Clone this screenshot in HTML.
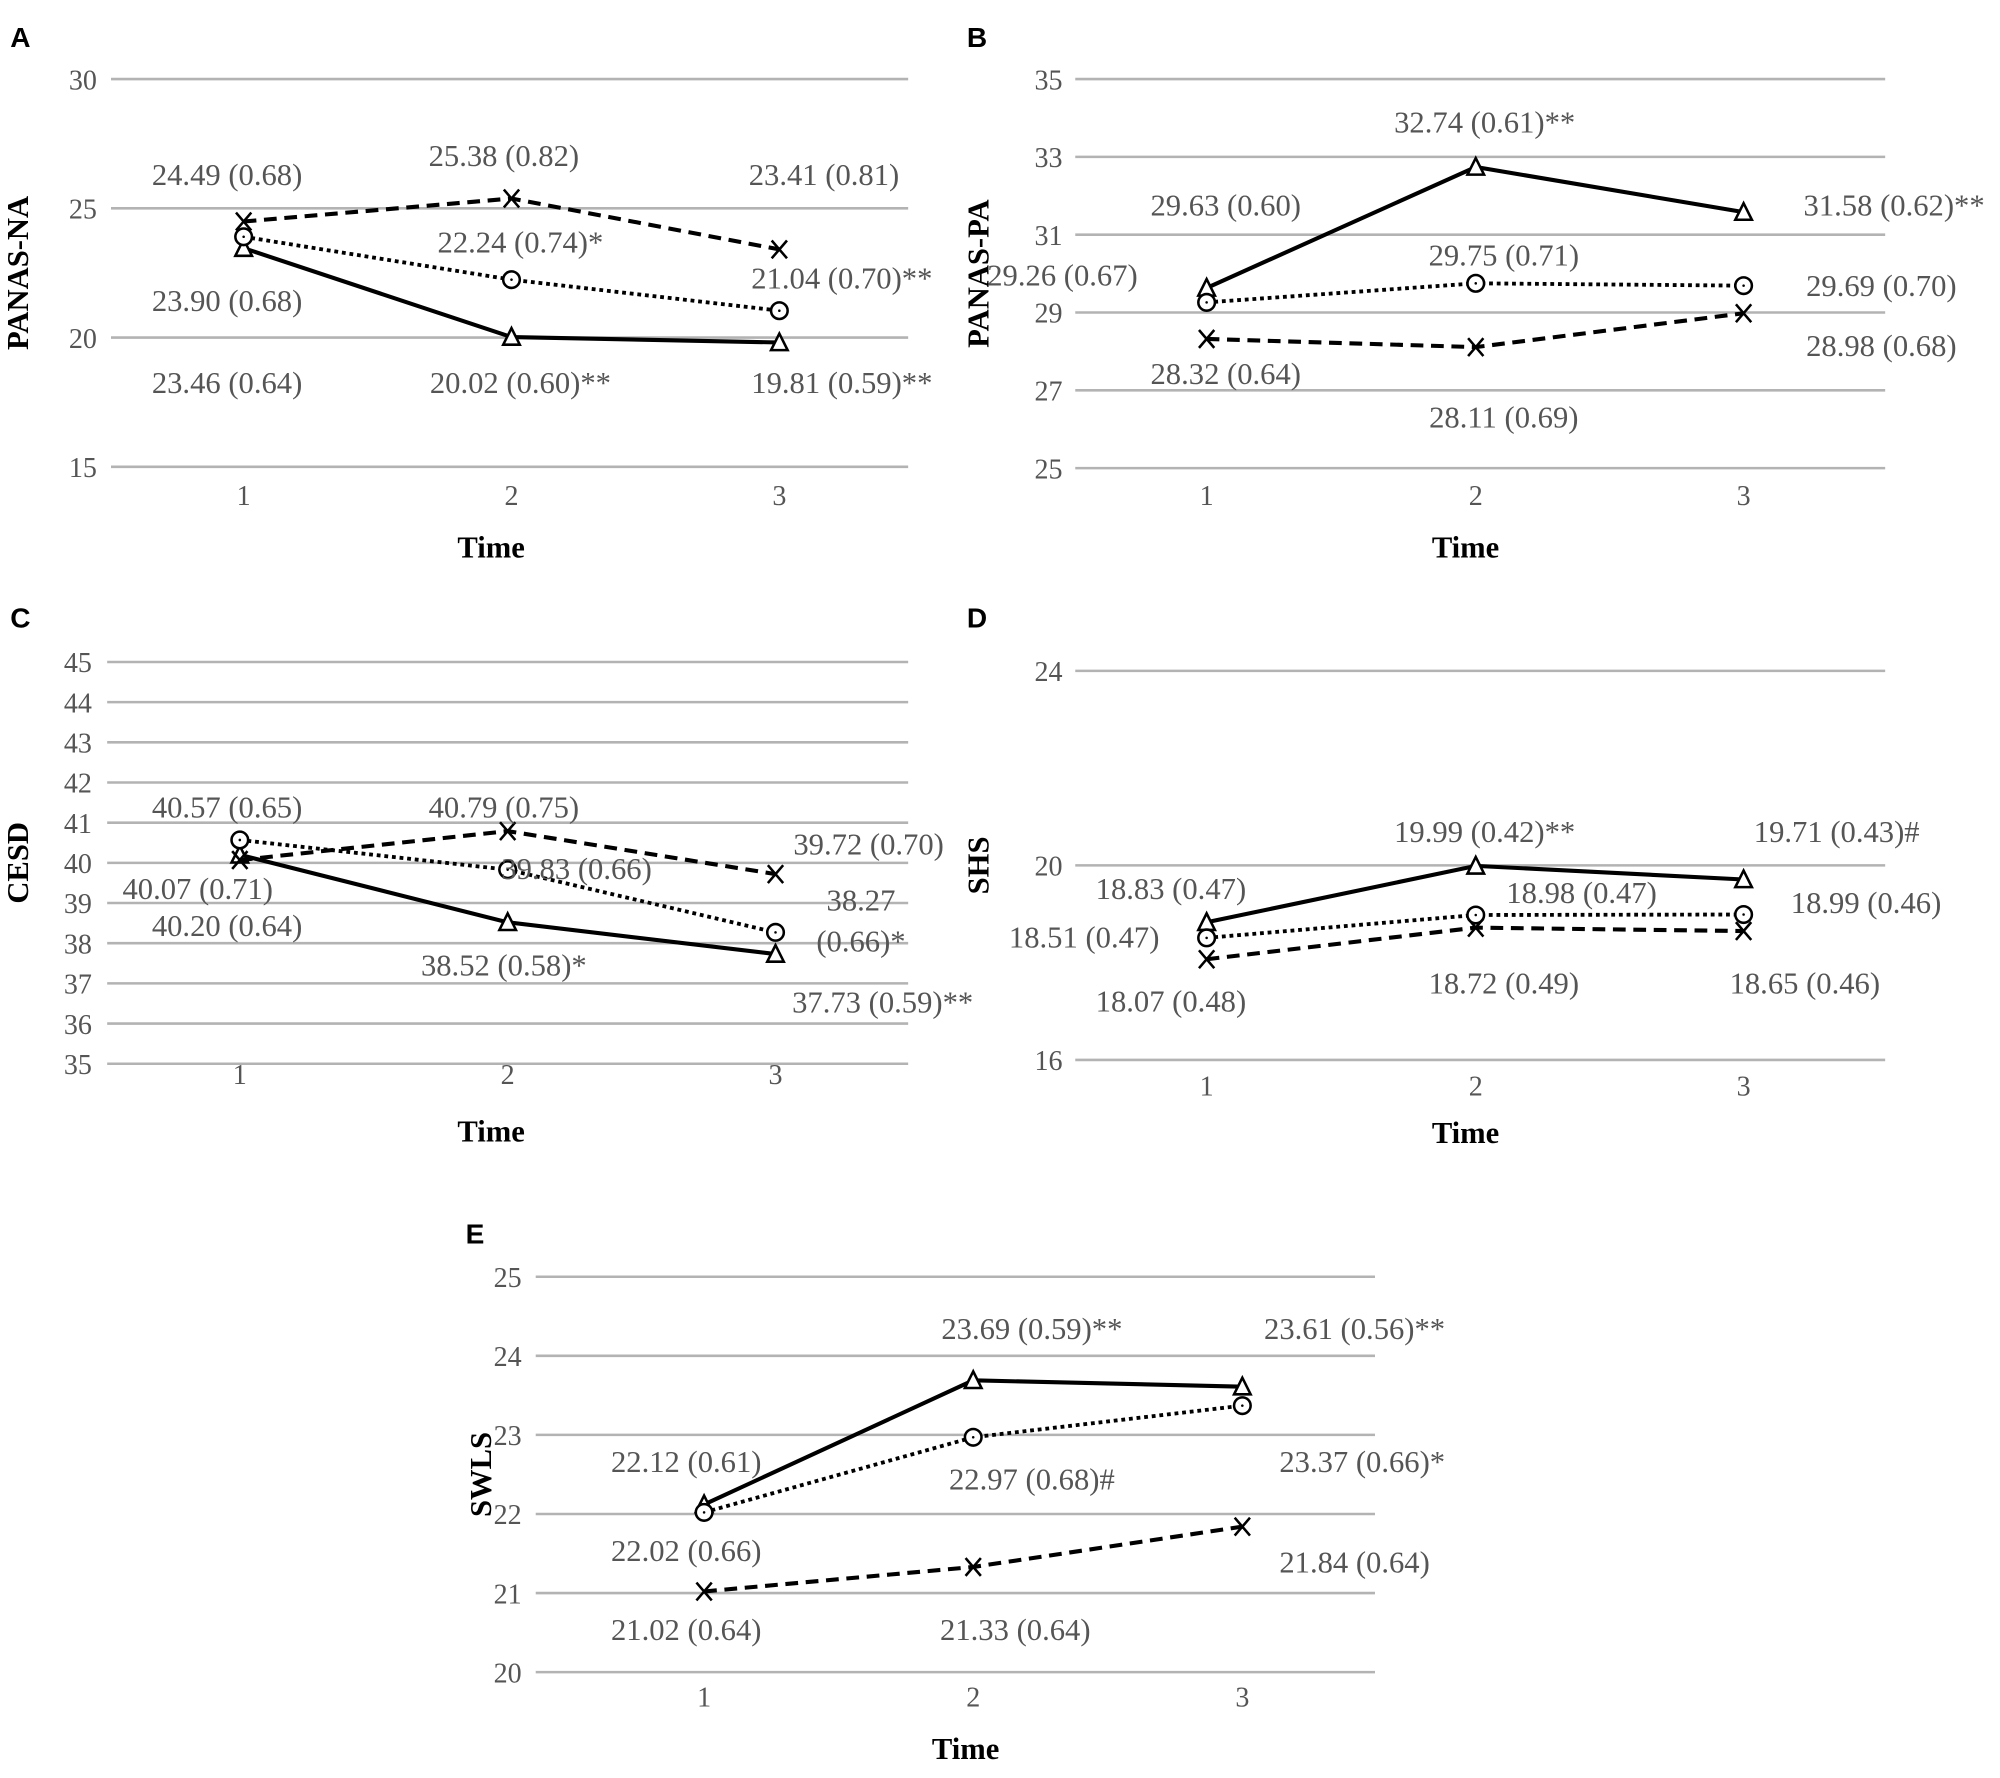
<!DOCTYPE html>
<html><head><meta charset="utf-8"><style>
html,body{margin:0;padding:0;background:#fff}
svg{display:block}
</style></head><body>
<svg id="fig" width="2000" height="1778" viewBox="0 0 1568 1394" xmlns="http://www.w3.org/2000/svg"></svg>
<script>
// ---- data ----
const timePoints = [1, 2, 3];
const aTri = [23.46, 20.02, 19.81], aCirc = [23.90, 22.24, 21.04], aX = [24.49, 25.38, 23.41];
const aTriSe = [0.64, 0.60, 0.59], aCircSe = [0.68, 0.74, 0.70], aXSe = [0.68, 0.82, 0.81];
const aTriSig = ["", "**", "**"], aCircSig = ["", "*", "**"], aXSig = ["", "", ""];
const bTri = [29.63, 32.74, 31.58], bCirc = [29.26, 29.75, 29.69], bX = [28.32, 28.11, 28.98];
const bTriSe = [0.60, 0.61, 0.62], bCircSe = [0.67, 0.71, 0.70], bXSe = [0.64, 0.69, 0.68];
const bTriSig = ["", "**", "**"], bCircSig = ["", "", ""], bXSig = ["", "", ""];
const cTri = [40.20, 38.52, 37.73], cCirc = [40.57, 39.83, 38.27], cX = [40.07, 40.79, 39.72];
const cTriSe = [0.64, 0.58, 0.59], cCircSe = [0.65, 0.66, 0.66], cXSe = [0.71, 0.75, 0.70];
const cTriSig = ["", "*", "**"], cCircSig = ["", "", "*"], cXSig = ["", "", ""];
const dTri = [18.83, 19.99, 19.71], dCirc = [18.51, 18.98, 18.99], dX = [18.07, 18.72, 18.65];
const dTriSe = [0.47, 0.42, 0.43], dCircSe = [0.47, 0.47, 0.46], dXSe = [0.48, 0.49, 0.46];
const dTriSig = ["", "**", "#"], dCircSig = ["", "", ""], dXSig = ["", "", ""];
const eTri = [22.12, 23.69, 23.61], eCirc = [22.02, 22.97, 23.37], eX = [21.02, 21.33, 21.84];
const eTriSe = [0.61, 0.59, 0.56], eCircSe = [0.66, 0.68, 0.66], eXSe = [0.64, 0.64, 0.64];
const eTriSig = ["", "**", "**"], eCircSig = ["", "#", "*"], eXSig = ["", "", ""];
const aTicks = [15, 20, 25, 30], bTicks = [25, 27, 29, 31, 33, 35];
const cTicks = [35, 36, 37, 38, 39, 40, 41, 42, 43, 44, 45], dTicks = [16, 20, 24], eTicks = [20, 21, 22, 23, 24, 25];

const NS = "http://www.w3.org/2000/svg";
const svg = document.getElementById('fig');
function mk(tag, attrs, parent) {
  const e = document.createElementNS(NS, tag);
  for (const k in attrs) e.setAttribute(k, attrs[k]);
  (parent || svg).appendChild(e);
  return e;
}
function txt(s, attrs, parent) { const t = mk('text', attrs, parent); t.textContent = s; return t; }

const panels = [
 {id:'a', letter:'A', lx:8, ly:37, ylab:'PANAS-NA', ylx:22, x0:87, x1:712, xt:[191,401,611], ymin:15, ymax:30, ytop:62, ybot:366, ticks:aTicks, tickX:76, tlY:396, timeX:385, timeY:437,
  series:[{v:aTri,se:aTriSe,sig:aTriSig,m:'tri',dash:'',ly:[300,300,300],dx:[-13,7,49]},
          {v:aCirc,se:aCircSe,sig:aCircSig,m:'circ',dash:'3 3',ly:[236,190,218],dx:[-13,7,49]},
          {v:aX,se:aXSe,sig:aXSig,m:'x',dash:'10 6',ly:[137,122,137],dx:[-13,-6,35]}]},
 {id:'b', letter:'B', lx:758, ly:37, ylab:'PANAS-PA', ylx:775, x0:843, x1:1478, xt:[946,1157,1367], ymin:25, ymax:35, ytop:62, ybot:367, ticks:bTicks, tickX:833, tlY:396, timeX:1149, timeY:437,
  series:[{v:bTri,se:bTriSe,sig:bTriSig,m:'tri',dash:'',ly:[161,96,161],dx:[15,7,118]},
          {v:bCirc,se:bCircSe,sig:bCircSig,m:'circ',dash:'3 3',ly:[216,200,224],dx:[-113,22,108]},
          {v:bX,se:bXSe,sig:bXSig,m:'x',dash:'10 6',ly:[293,327,271],dx:[15,22,108]}]},
 {id:'c', letter:'C', lx:8, ly:492, ylab:'CESD', ylx:22, x0:84, x1:712, xt:[188,398,608], ymin:35, ymax:45, ytop:519, ybot:834, ticks:cTicks, tickX:72, tlY:850, timeX:385, timeY:895,
  series:[{v:cTri,se:cTriSe,sig:cTriSig,m:'tri',dash:'',ly:[726,757,786],dx:[-10,-3,84]},
          {v:cCirc,se:cCircSe,sig:cCircSig,m:'circ',dash:'3 3',ly:[633,681,706],dx:[-10,54,67]},
          {v:cX,se:cXSe,sig:cXSig,m:'x',dash:'10 6',ly:[697,633,662],dx:[-33,-3,73]}]},
 {id:'d', letter:'D', lx:758, ly:492, ylab:'SHS', ylx:775, x0:843, x1:1478, xt:[946,1157,1367], ymin:16, ymax:24, ytop:526, ybot:831, ticks:dTicks, tickX:833, tlY:859, timeX:1149, timeY:896,
  series:[{v:dTri,se:dTriSe,sig:dTriSig,m:'tri',dash:'',ly:[697,652,652],dx:[-28,7,73]},
          {v:dCirc,se:dCircSe,sig:dCircSig,m:'circ',dash:'3 3',ly:[735,700,708],dx:[-96,83,96]},
          {v:dX,se:dXSe,sig:dXSig,m:'x',dash:'10 6',ly:[785,771,771],dx:[-28,22,48]}]},
 {id:'e', letter:'E', lx:365, ly:975, ylab:'SWLS', ylx:385, x0:420, x1:1078, xt:[552,763,974], ymin:20, ymax:25, ytop:1001, ybot:1311, ticks:eTicks, tickX:409, tlY:1338, timeX:757, timeY:1379,
  series:[{v:eTri,se:eTriSe,sig:eTriSig,m:'tri',dash:'',ly:[1146,1042,1042],dx:[-14,46,88]},
          {v:eCirc,se:eCircSe,sig:eCircSig,m:'circ',dash:'3 3',ly:[1216,1160,1146],dx:[-14,46,94]},
          {v:eX,se:eXSe,sig:eXSig,m:'x',dash:'10 6',ly:[1278,1278,1225],dx:[-14,33,88]}]}
];

const SERIF = '"Liberation Serif", serif';
panels.forEach(p => {
  const g = mk('g', {});
  
  
  const y = v => p.ybot - (v - p.ymin) / (p.ymax - p.ymin) * (p.ybot - p.ytop);
  const x = t => p.xt[t - 1];
  const L = txt(p.letter, {x:p.lx, y:p.ly, 'font-family':'"Liberation Sans", sans-serif', 'font-weight':'bold', 'font-size':22, fill:'#000'}, g);
  
  
  p.ticks.forEach(t => {
    const ln = mk('line', {x1:p.x0, x2:p.x1, y1:y(t), y2:y(t), stroke:'#b3b3b3', 'stroke-width':2}, g);
    
    
    const tl = txt(String(t), {x:p.tickX, y:y(t) + 8, 'text-anchor':'end', 'font-family':SERIF, 'font-size':22, fill:'#555'}, g);
    
    
  });
  timePoints.forEach(t => {
    const tl = txt(String(t), {x:x(t), y:p.tlY, 'text-anchor':'middle', 'font-family':SERIF, 'font-size':22, fill:'#555'}, g);
    
    
  });
  const tt = txt('Time', {x:p.timeX, y:p.timeY, 'text-anchor':'middle', 'font-family':SERIF, 'font-weight':'bold', 'font-size':24, fill:'#000'}, g);
  
  
  const cy = (p.ytop + p.ybot) / 2;
  const yt = txt(p.ylab, {x:p.ylx, y:cy, transform:`rotate(-90 ${p.ylx} ${cy})`, 'text-anchor':'middle', 'font-family':SERIF, 'font-weight':'bold', 'font-size':24, fill:'#000'}, g);
  
  
  p.series.forEach(s => {
    const pts = s.v.map((v, i) => x(timePoints[i]) + ',' + y(v)).join(' ');
    const pl = mk('polyline', {points:pts, fill:'none', stroke:'#000', 'stroke-width':s.m === 'circ' ? 3 : 3.2, 'stroke-dasharray':s.dash}, g);
    
    
    s.v.forEach((v, i) => {
      const px = x(timePoints[i]), py = y(v);
      let mEl;
      if (s.m === 'tri') mEl = mk('polygon', {points:`${px},${py-7} ${px-6.5},${py+6} ${px+6.5},${py+6}`, fill:'#fff', stroke:'#000', 'stroke-width':2}, g);
      else if (s.m === 'circ') { mEl = mk('circle', {cx:px, cy:py, r:6.5, fill:'#fff', stroke:'#000', 'stroke-width':2}, g); mk('circle', {cx:px, cy:py, r:1, fill:'#000'}, g); }
      else mEl = mk('path', {d:`M${px-6},${py-7}L${px+6},${py+7}M${px+6},${py-7}L${px-6},${py+7}`, stroke:'#000', 'stroke-width':2, fill:'none'}, g);
      
      
      const label = v.toFixed(2) + ' (' + s.se[i].toFixed(2) + ')' + s.sig[i];
      const lx = px + s.dx[i];
      let lt;
      if (p.id === 'c' && s.m === 'circ' && i === 2) {
        lt = txt('', {x:lx, y:s.ly[i] + 8, 'text-anchor':'middle', 'font-family':SERIF, 'font-size':24, fill:'#555'}, g);
        const t1 = mk('tspan', {x:lx}, lt); t1.textContent = v.toFixed(2);
        const t2 = mk('tspan', {x:lx, dy:32}, lt); t2.textContent = '(' + s.se[i].toFixed(2) + ')' + s.sig[i];
      } else {
        lt = txt(label, {x:lx, y:s.ly[i] + 8, 'text-anchor':'middle', 'font-family':SERIF, 'font-size':24, fill:'#555'}, g);
      }
      
      
    });
  });
});
</script>
</body></html>
